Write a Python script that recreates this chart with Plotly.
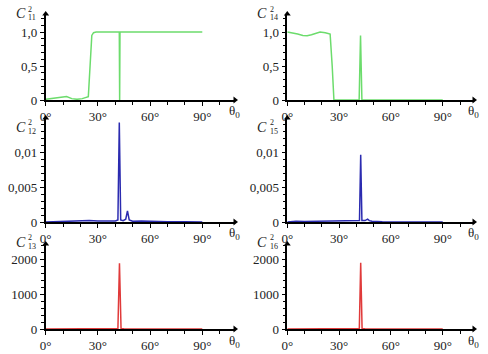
import plotly.graph_objects as go

# ---------------- data ----------------
theta_11 = [0, 3, 6, 9, 12, 15, 18, 21, 23, 24.5, 25.5, 26.5, 27.5, 29, 35, 40, 42.3, 42.5, 42.7, 45, 60, 75, 90]
c2_11 = [0.01, 0.02, 0.03, 0.05, 0.05, 0.02, 0.01, 0.02, 0.04, 0.05, 0.5, 0.95, 0.99, 1.0, 1.0, 1.0, 1.0, 0.0, 1.0, 1.0, 1.0, 1.0, 1.0]

theta_14 = [0, 3, 6, 9, 11.5, 14, 17, 19, 22, 24.8, 26, 27, 30, 40, 41.6, 42.4, 43.2, 45, 60, 75, 90]
c2_14 = [1.0, 0.99, 0.97, 0.95, 0.945, 0.96, 0.99, 1.0, 0.99, 0.97, 0.5, 0.0, 0.0, 0.0, 0.0, 0.95, 0.0, 0.0, 0.0, 0.0, 0.0]

theta_12 = [0, 5, 10, 15, 20, 25, 30, 35, 40, 41.5, 42.3, 43.1, 44.5, 46, 47, 48, 50, 55, 60, 70, 80, 90]
c2_12 = [0.0, 0.00005, 0.0001, 0.0001, 0.00015, 0.0002, 0.00015, 0.0001, 0.00015, 0.0003, 0.0142, 0.0003,
         0.0002, 0.0004, 0.0016, 0.0003, 0.0001, 0.00015, 0.0001, 0.00005, 0.00003, 0.0]

theta_15 = [0, 5, 10, 15, 20, 25, 30, 35, 40, 41.8, 42.5, 43.2, 45, 46.5, 47.5, 49, 55, 60, 70, 80, 90]
c2_15 = [0.0, 0.0001, 0.00008, 0.0001, 0.00012, 0.0001, 0.0001, 0.00008, 0.0001, 0.0002, 0.0096, 0.0002,
         0.0002, 0.0004, 0.0002, 0.0001, 0.00005, 0.00005, 0.00003, 0.00002, 0.0]

theta_13 = [0, 10, 20, 30, 40, 41.5, 42.4, 43.3, 45, 60, 75, 90]
c2_13 = [0, 2, 3, 4, 6, 15, 1880, 12, 5, 3, 2, 1]

theta_16 = [0, 10, 20, 30, 40, 41.7, 42.5, 43.3, 45, 60, 75, 90]
c2_16 = [0, 2, 3, 4, 6, 15, 1890, 12, 5, 3, 2, 1]

x_tickvals = [0, 30, 60, 90]
x_ticktext = ["0°", "30°", "60°", "90°"]

y1_tickvals = [0, 0.5, 1.0]
y1_ticktext = ["0", "0,5", "1,0"]
y2_tickvals = [0, 0.005, 0.01]
y2_ticktext = ["0", "0,005", "0,01"]
y3_tickvals = [0, 1000, 2000]
y3_ticktext = ["0", "1000", "2000"]

labels = ["11", "14", "12", "15", "13", "16"]

GREEN = "#6cdc6c"
BLUE = "#2b2bb0"
RED = "#e03a3a"
FONT = "Liberation Serif, Times New Roman, serif"
W, H = 488, 354

# panel geometry (pixels)
cols = [dict(x0=45.7, x1=235, xmax=108.8), dict(x0=287.3, x1=474, xmax=108.1)]
rows = [dict(top=14, bot=100, ymax=1.265, tv=y1_tickvals, tt=y1_ticktext, minor=0.1, cy=14),
        dict(top=118, bot=222, ymax=0.01486, tv=y2_tickvals, tt=y2_ticktext, minor=0.001, cy=127),
        dict(top=244, bot=329, ymax=2430, tv=y3_tickvals, tt=y3_ticktext, minor=200, cy=242)]

series = [(theta_11, c2_11, GREEN), (theta_14, c2_14, GREEN),
          (theta_12, c2_12, BLUE), (theta_15, c2_15, BLUE),
          (theta_13, c2_13, RED), (theta_16, c2_16, RED)]

fig = go.Figure()
layout = dict(width=W, height=H, margin=dict(l=0, r=0, t=0, b=0, pad=0),
              paper_bgcolor="white", plot_bgcolor="white", showlegend=False,
              font=dict(family=FONT, size=13, color="#222"))
annotations = []

idx = 0
for r, row in enumerate(rows):
    for c, col in enumerate(cols):
        idx += 1
        sx = "" if idx == 1 else str(idx)
        xs, ys, color = series[idx - 1]
        fig.add_trace(go.Scatter(x=xs, y=ys, mode="lines", line=dict(color=color, width=1.5),
                                 xaxis="x" + sx, yaxis="y" + sx, hoverinfo="skip"))
        # arrowheads at axis ends
        fig.add_trace(go.Scatter(x=[col["xmax"], 0], y=[0, row["ymax"]], mode="markers",
                                 marker=dict(symbol=["triangle-right", "triangle-up"], size=6,
                                             color="black"),
                                 cliponaxis=False, xaxis="x" + sx, yaxis="y" + sx, hoverinfo="skip"))
        layout["xaxis" + sx] = dict(
            domain=[col["x0"] / W, col["x1"] / W], range=[0, col["xmax"]], anchor="y" + sx,
            showline=True, linecolor="black", linewidth=1.5, showgrid=False, zeroline=False,
            automargin=False,
            tickvals=x_tickvals, ticktext=x_ticktext, ticks="outside", ticklen=4,
            tickcolor="black", tickwidth=1,
            minor=dict(dtick=10, tick0=0, ticks="outside", ticklen=3, tickcolor="black"),
            tickfont=dict(family=FONT, size=13, color="#222"), fixedrange=True)
        layout["yaxis" + sx] = dict(
            domain=[1 - row["bot"] / H, 1 - row["top"] / H], range=[0, row["ymax"]], anchor="x" + sx,
            showline=True, linecolor="black", linewidth=1.5, showgrid=False, zeroline=False,
            automargin=False,
            tickvals=row["tv"], ticktext=row["tt"], ticks="outside", ticklen=4,
            tickcolor="black", tickwidth=1,
            minor=dict(dtick=row["minor"], tick0=0, ticks="outside", ticklen=3, tickcolor="black"),
            tickfont=dict(family=FONT, size=13, color="#222"), fixedrange=True)
        # theta_0 label
        annotations.append(dict(x=col["xmax"], y=0, xref="x" + sx, yref="y" + sx,
                                text="θ<sub>0</sub>", showarrow=False, yshift=-12, xshift=-1,
                                font=dict(family=FONT, size=13, color="#222")))
        # C label
        cx = col["x0"] - 18
        cy = row["cy"]
        annotations.append(dict(x=cx / W, y=1 - cy / H, xref="paper", yref="paper",
                                text="<i>C</i>", showarrow=False, xanchor="right", yanchor="middle",
                                font=dict(family=FONT, size=14, color="#222")))
        annotations.append(dict(x=(cx - 1.5) / W, y=1 - (cy - 5) / H, xref="paper", yref="paper",
                                text="2", showarrow=False, xanchor="left", yanchor="middle",
                                font=dict(family=FONT, size=8, color="#222")))
        annotations.append(dict(x=(cx - 1.5) / W, y=1 - (cy + 4) / H, xref="paper", yref="paper",
                                text=labels[idx - 1], showarrow=False, xanchor="left", yanchor="middle",
                                font=dict(family=FONT, size=8, color="#222")))

layout["annotations"] = annotations
fig.update_layout(**layout)
fig.write_html("out.html", config={"displayModeBar": False},
               post_script="document.body.style.margin='0';document.body.style.padding='0';")
